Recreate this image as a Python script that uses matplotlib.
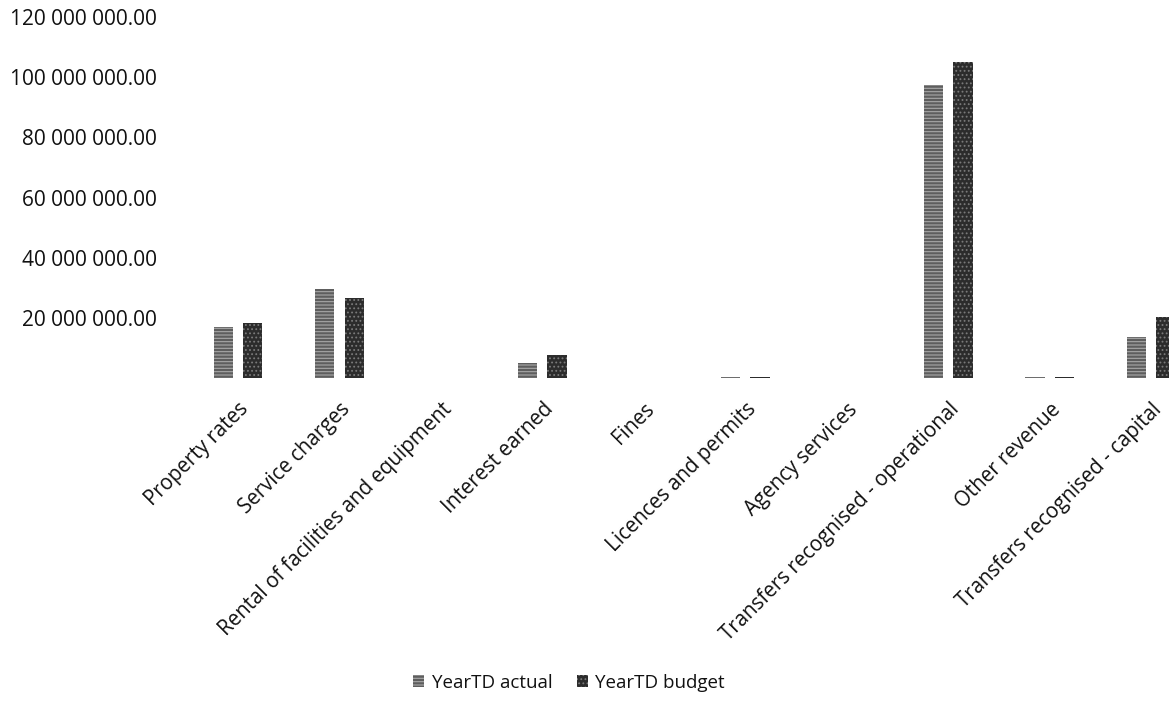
import matplotlib
matplotlib.use("Agg")
import matplotlib.pyplot as plt
from matplotlib.ticker import FuncFormatter
import numpy as np

categories = ["Property rates", "Service charges", "Rental of facilities and equipment",
              "Interest earned", "Fines", "Licences and permits", "Agency services",
              "Transfers recognised - operational", "Other revenue",
              "Transfers recognised - capital"]
actual = [17.0e6, 29.7e6, 0.0, 5.0e6, 0.0, 0.3e6, 0.0, 97.3e6, 0.4e6, 13.7e6]
budget = [18.3e6, 26.7e6, 0.0, 7.7e6, 0.0, 0.3e6, 0.0, 105.0e6, 0.5e6, 20.3e6]
series_names = ["YearTD actual", "YearTD budget"]
yticks = [20e6, 40e6, 60e6, 80e6, 100e6, 120e6]

plt.rcParams['font.family'] = ['Open Sans', 'DejaVu Sans']
plt.rcParams['hatch.linewidth'] = 0.8

fig = plt.figure(figsize=(11.69, 7.02), dpi=100)
ax = fig.add_axes([0.1602, 0.4615, 0.8680, 0.5143])

x = np.arange(len(categories))
w = 0.19
off = 0.145
b1 = ax.bar(x - off, actual, w, color='#5e5e5e', edgecolor='#a8a8a8', hatch='-----',
            linewidth=0, label=series_names[0])
b2 = ax.bar(x + off, budget, w, color='#2c2c2c', edgecolor='#7a7a7a', hatch='....',
            linewidth=0, label=series_names[1])

ax.set_xlim(-0.5, len(categories) - 0.5)
ax.set_ylim(0, 120e6)
ax.set_yticks(yticks)
ax.yaxis.set_major_formatter(FuncFormatter(lambda v, p: f"{v:,.2f}".replace(",", " ")))
ax.tick_params(axis='y', length=0, pad=22, labelsize=15, colors='#111111')
ax.set_xticks(x)
ax.set_xticklabels(categories, rotation=45, ha='right', rotation_mode='anchor',
                   fontsize=14.8, color='#111111')
ax.tick_params(axis='x', length=0, pad=15)
for s in ax.spines.values():
    s.set_visible(False)

leg = fig.legend(handles=[b1, b2], labels=series_names, loc='center',
                 bbox_to_anchor=(569 / 1169, 1 - 683 / 702), ncol=2, frameon=False,
                 fontsize=13.5, handlelength=0.6, handleheight=0.6, handletextpad=0.4,
                 columnspacing=1.3)
for t in leg.get_texts():
    t.set_color('#111111')

fig.savefig("out.png", dpi=100)
